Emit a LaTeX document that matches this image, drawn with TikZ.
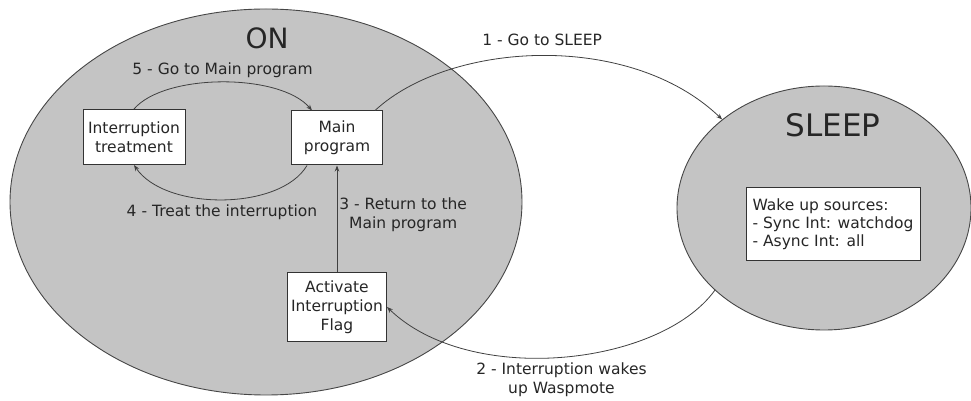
\documentclass[tikz,border=0pt]{standalone}
\usepackage{fontspec}
\setmainfont{DejaVu Sans}
\usepackage{tikz}
\usetikzlibrary{shapes, arrows, calc, positioning}
\usetikzlibrary{arrows.meta}
\definecolor{stategray}{RGB}{196,196,196}
\definecolor{linegray}{RGB}{70,70,70}

\begin{document}
\begin{tikzpicture}[
      x=1pt, y=1pt,
      every node/.style={font=\fontsize{15.5}{19}\selectfont, text=black!85},
      state/.style={ellipse, draw=linegray, fill=stategray, line width=0.9pt, inner sep=0pt},
      statename/.style={font=\fontsize{28}{32}\selectfont},
      box/.style={rectangle, draw=black!80, fill=white, line width=1pt, inner sep=2pt, align=center},
      trans/.style={draw=black!75, line width=0.8pt, -{Stealth[length=6pt, width=4.5pt]}},
      translabel/.style={align=center, inner sep=2pt}
    ]
    \useasboundingbox (0,0) rectangle (971,401);

    % the two states
    \node[state, minimum width=512pt, minimum height=386pt] (on) at (266,199) {};
    \node[state, minimum width=294pt, minimum height=244pt] (sleep) at (824,193) {};
    \node[statename] (ontitle) at (267,363) {ON};
    \node[statename, font=\fontsize{31}{35}\selectfont] (sleeptitle) at (833,276) {SLEEP};

    % boxes
    \node[box, minimum width=102pt, minimum height=55pt] (treat) at (134,264) {Interruption\\treatment};
    \node[box, minimum width=91pt, minimum height=54pt] (main) at (337,263) {Main\\program};
    \node[box, minimum width=99pt, minimum height=69pt] (flag) at (337,94) {Activate\\Interruption\\Flag};
    \node[box, minimum width=174pt, minimum height=73pt, align=left,
          font=\fontsize{15.5}{18}\selectfont] (wake) at (833,177)
      {Wake up sources:\\- Sync Int: watchdog\\- Async Int: all};

    % 1 - going to sleep
    \draw[trans] ([xshift=-8pt]main.north east) .. controls (450,360) and (630,370) .. (sleep.139)
      node[translabel, pos=0.5, above, yshift=8pt] {1 - Go to SLEEP};

    % 2 - waking up
    \draw[trans] (sleep.217) .. controls (660,35) and (470,14) .. (flag.east)
      node[translabel, pos=0.5, below, yshift=-3pt] {2 - Interruption wakes\\up Waspmote};

    % 3 - back to main
    \draw[trans] (flag.north) -- (main.south)
      node[translabel, pos=0.54, right] {3 - Return to the\\Main program};

    % 4 - treat
    \draw[trans] ([xshift=16pt]main.south west) .. controls (280,190) and (165,190) .. (treat.south)
      node[translabel, pos=0.5, below, yshift=-3pt] {4 - Treat the interruption};

    % 5 - go to main program
    \draw[trans] (treat.north) .. controls (165,328) and (280,328) .. ([xshift=-25pt]main.north)
      node[translabel, pos=0.5, above, yshift=2pt] {5 - Go to Main program};
\end{tikzpicture}
\end{document}
